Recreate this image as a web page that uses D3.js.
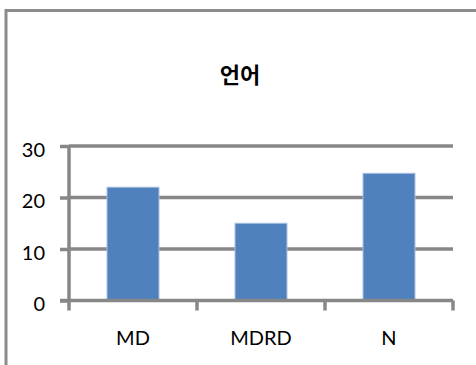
<!DOCTYPE html>
<html>
<head>
<meta charset="utf-8">
<script src="https://cdn.jsdelivr.net/npm/d3@7"></script>
<style>
  html, body { margin: 0; padding: 0; background: #fff; }
  svg { display: block; }
</style>
</head>
<body>
<svg id="chart" width="476" height="365"></svg>
<script>
// Chart data
const title = "언어";
const categories = ["MD", "MDRD", "N"];
const values = [22, 15, 24.7];
const yTicks = [0, 10, 20, 30];

const W = 476, H = 365;
const svg = d3.select("#chart");
const axisColor = "#878787";
const font = "Lato, 'Open Sans', sans-serif";

// Outer chart frame
svg.append("rect")
  .attr("x", 6).attr("y", 10.5)
  .attr("width", W + 10).attr("height", H + 10)
  .attr("fill", "#fff")
  .attr("stroke", "#8c8c8c")
  .attr("stroke-width", 3);

// Plot area
const plot = { left: 69, right: 453, top: 146, bottom: 300.5 };

const x = d3.scaleBand()
  .domain(categories)
  .range([plot.left, plot.right])
  .paddingInner(0.594)
  .paddingOuter(0.297);

const xCat = d3.scaleBand()
  .domain(categories)
  .range([plot.left, plot.right])
  .padding(0);

const y = d3.scaleLinear()
  .domain([0, 30])
  .range([plot.bottom, plot.top]);

// Horizontal gridlines
svg.append("g")
  .selectAll("line")
  .data(yTicks.filter(d => d > 0))
  .join("line")
  .attr("x1", plot.left).attr("x2", plot.right)
  .attr("y1", d => y(d)).attr("y2", d => y(d))
  .attr("stroke", axisColor)
  .attr("stroke-width", 3.5);

// Bars
svg.append("g")
  .selectAll("rect")
  .data(values)
  .join("rect")
  .attr("x", (d, i) => x(categories[i]))
  .attr("y", d => y(d))
  .attr("width", x.bandwidth())
  .attr("height", d => y(0) - y(d))
  .attr("fill", "#4f81bd")
  .attr("stroke", "#a9c0e0")
  .attr("stroke-width", 1);

// Y axis
const yAxis = d3.axisLeft(y)
  .tickValues(yTicks)
  .tickSize(9)
  .tickPadding(15)
  .tickFormat(d3.format("d"));

const gy = svg.append("g")
  .attr("transform", `translate(${plot.left},0)`)
  .call(yAxis);
gy.select(".domain").remove();
gy.append("line")
  .attr("x1", 0).attr("x2", 0)
  .attr("y1", plot.top - 1).attr("y2", plot.bottom + 10)
  .attr("stroke", axisColor).attr("stroke-width", 3.5);
gy.selectAll(".tick line")
  .attr("stroke", axisColor).attr("stroke-width", 3.5);
gy.selectAll(".tick text")
  .attr("fill", "#000")
  .attr("font-family", font)
  .attr("font-size", 20)
  .attr("dy", "0.52em");

// X axis baseline with category boundary ticks
const gx = svg.append("g");
gx.append("line")
  .attr("x1", plot.left - 9).attr("x2", plot.right)
  .attr("y1", y(0)).attr("y2", y(0))
  .attr("stroke", axisColor).attr("stroke-width", 3.5);
const boundaries = categories.map(c => xCat(c) + xCat.bandwidth());
gx.selectAll("line.tick")
  .data(boundaries)
  .join("line")
  .attr("class", "tick")
  .attr("x1", d => d).attr("x2", d => d)
  .attr("y1", y(0)).attr("y2", y(0) + 10)
  .attr("stroke", axisColor).attr("stroke-width", 3.5);
gx.selectAll("text")
  .data(categories)
  .join("text")
  .attr("x", d => xCat(d) + xCat.bandwidth() / 2)
  .attr("y", 345)
  .attr("text-anchor", "middle")
  .attr("font-family", font)
  .attr("font-size", 20)
  .attr("fill", "#000")
  .text(d => d);

// Title
svg.append("text")
  .attr("x", 240)
  .attr("y", 83)
  .attr("text-anchor", "middle")
  .attr("font-family", "'Noto Sans CJK KR', sans-serif")
  .attr("font-weight", "bold")
  .attr("font-size", 22)
  .attr("fill", "#000")
  .text(title);
</script>
</body>
</html>
